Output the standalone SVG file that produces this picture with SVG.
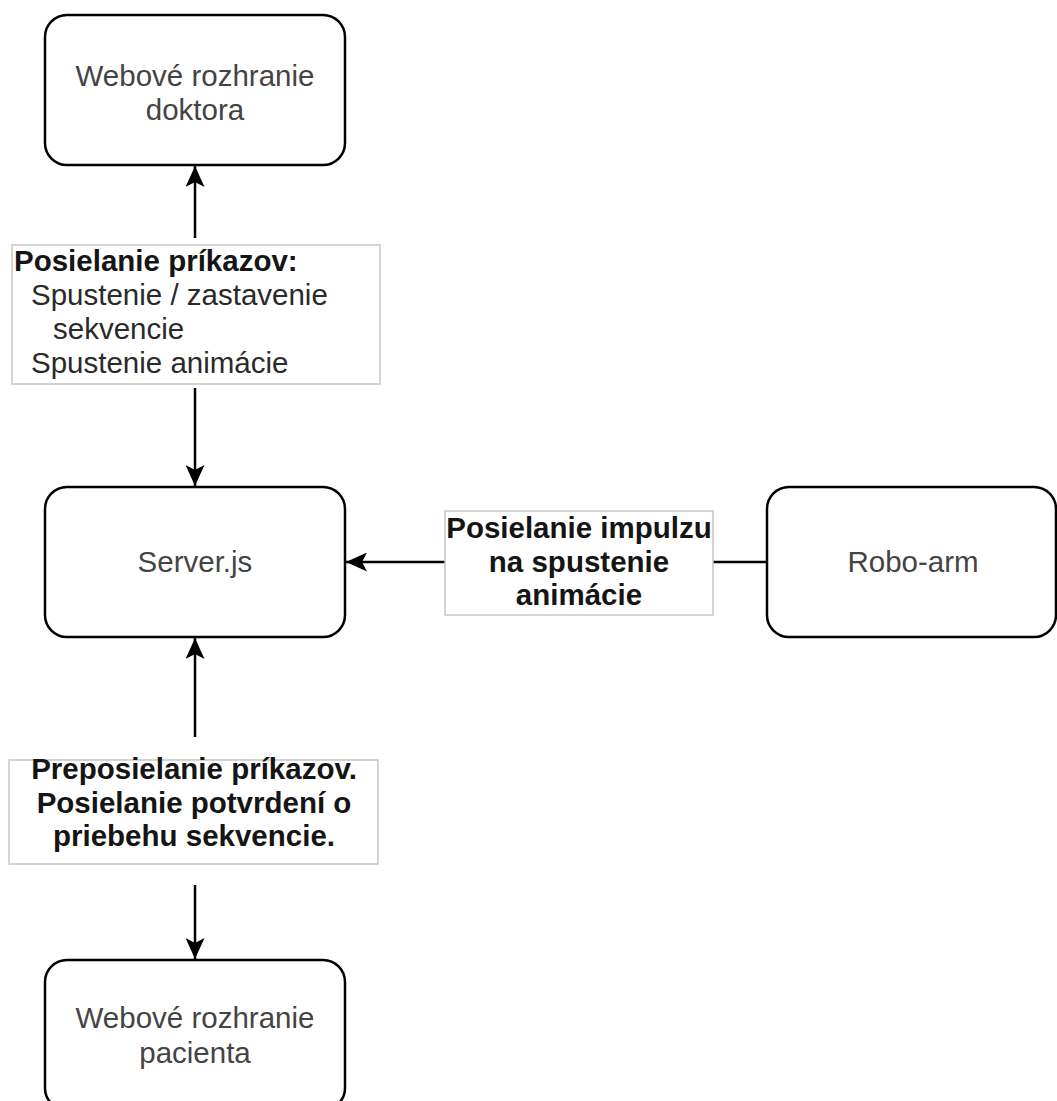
<svg xmlns="http://www.w3.org/2000/svg" width="1057" height="1101" viewBox="0 0 1057 1101">
  <style>
    .node { fill: #ffffff; stroke: #000000; stroke-width: 2.5; }
    .lbl { fill: #ffffff; stroke: #c6c6c6; stroke-width: 1.5; }
    .edge { fill: none; stroke: #000000; stroke-width: 2.5; }
    .t { font-family: "Liberation Sans", Arial, sans-serif; font-size: 29.5px; fill: #444444; }
    .c { text-anchor: middle; }
    .b { font-weight: bold; fill: #151515; }
    .r { fill: #2a2a2a; }
  </style>
  <defs>
    <marker id="arrow" markerUnits="userSpaceOnUse" markerWidth="21" markerHeight="19" viewBox="0 0 21 19" refX="21" refY="9.5" orient="auto">
      <path d="M0,0 L21,9.5 L0,19 L5,9.5 Z" fill="#000000"/>
    </marker>
  </defs>
  <rect width="1057" height="1101" fill="#ffffff"/>

  <g id="connectors">
    <line class="edge" x1="195" y1="238" x2="195" y2="166" marker-end="url(#arrow)"/>
    <line class="edge" x1="195" y1="388" x2="195" y2="486" marker-end="url(#arrow)"/>
    <line class="edge" x1="195" y1="737" x2="195" y2="638" marker-end="url(#arrow)"/>
    <line class="edge" x1="195" y1="885" x2="195" y2="959" marker-end="url(#arrow)"/>
    <line class="edge" x1="767" y1="562" x2="713" y2="562"/>
    <line class="edge" x1="445" y1="562" x2="346" y2="562" marker-end="url(#arrow)"/>
  </g>

  <g id="node-doktor">
    <rect class="node" x="45" y="15" width="300" height="150" rx="22" ry="22"/>
    <text class="t c" x="195" y="86">Webové rozhranie</text>
    <text class="t c" x="195" y="120">doktora</text>
  </g>

  <g id="node-server">
    <rect class="node" x="45" y="487" width="300" height="150" rx="22" ry="22"/>
    <text class="t c" x="195" y="572">Server.js</text>
  </g>

  <g id="node-roboarm">
    <rect class="node" x="767" y="487" width="289" height="150" rx="22" ry="22"/>
    <text class="t c" x="913" y="572">Robo-arm</text>
  </g>

  <g id="node-pacient">
    <rect class="node" x="45" y="960" width="300" height="150" rx="22" ry="22"/>
    <text class="t c" x="195" y="1028">Webové rozhranie</text>
    <text class="t c" x="195" y="1063">pacienta</text>
  </g>

  <g id="label-prikazy">
    <rect class="lbl" x="12" y="245" width="368" height="139"/>
    <text class="t b" x="14" y="271">Posielanie príkazov:</text>
    <text class="t r" x="31" y="305">Spustenie / zastavenie</text>
    <text class="t r" x="53" y="339">sekvencie</text>
    <text class="t r" x="31" y="373">Spustenie animácie</text>
  </g>

  <g id="label-impulz">
    <rect class="lbl" x="445" y="511" width="268" height="104"/>
    <text class="t b c" x="579" y="538">Posielanie impulzu</text>
    <text class="t b c" x="579" y="572">na spustenie</text>
    <text class="t b c" x="579" y="605">animácie</text>
  </g>

  <g id="label-preposielanie">
    <rect class="lbl" x="9" y="760" width="369" height="104"/>
    <text class="t b c" x="194" y="779">Preposielanie príkazov.</text>
    <text class="t b c" x="194" y="813">Posielanie potvrdení o</text>
    <text class="t b c" x="194" y="846">priebehu sekvencie.</text>
  </g>
</svg>
